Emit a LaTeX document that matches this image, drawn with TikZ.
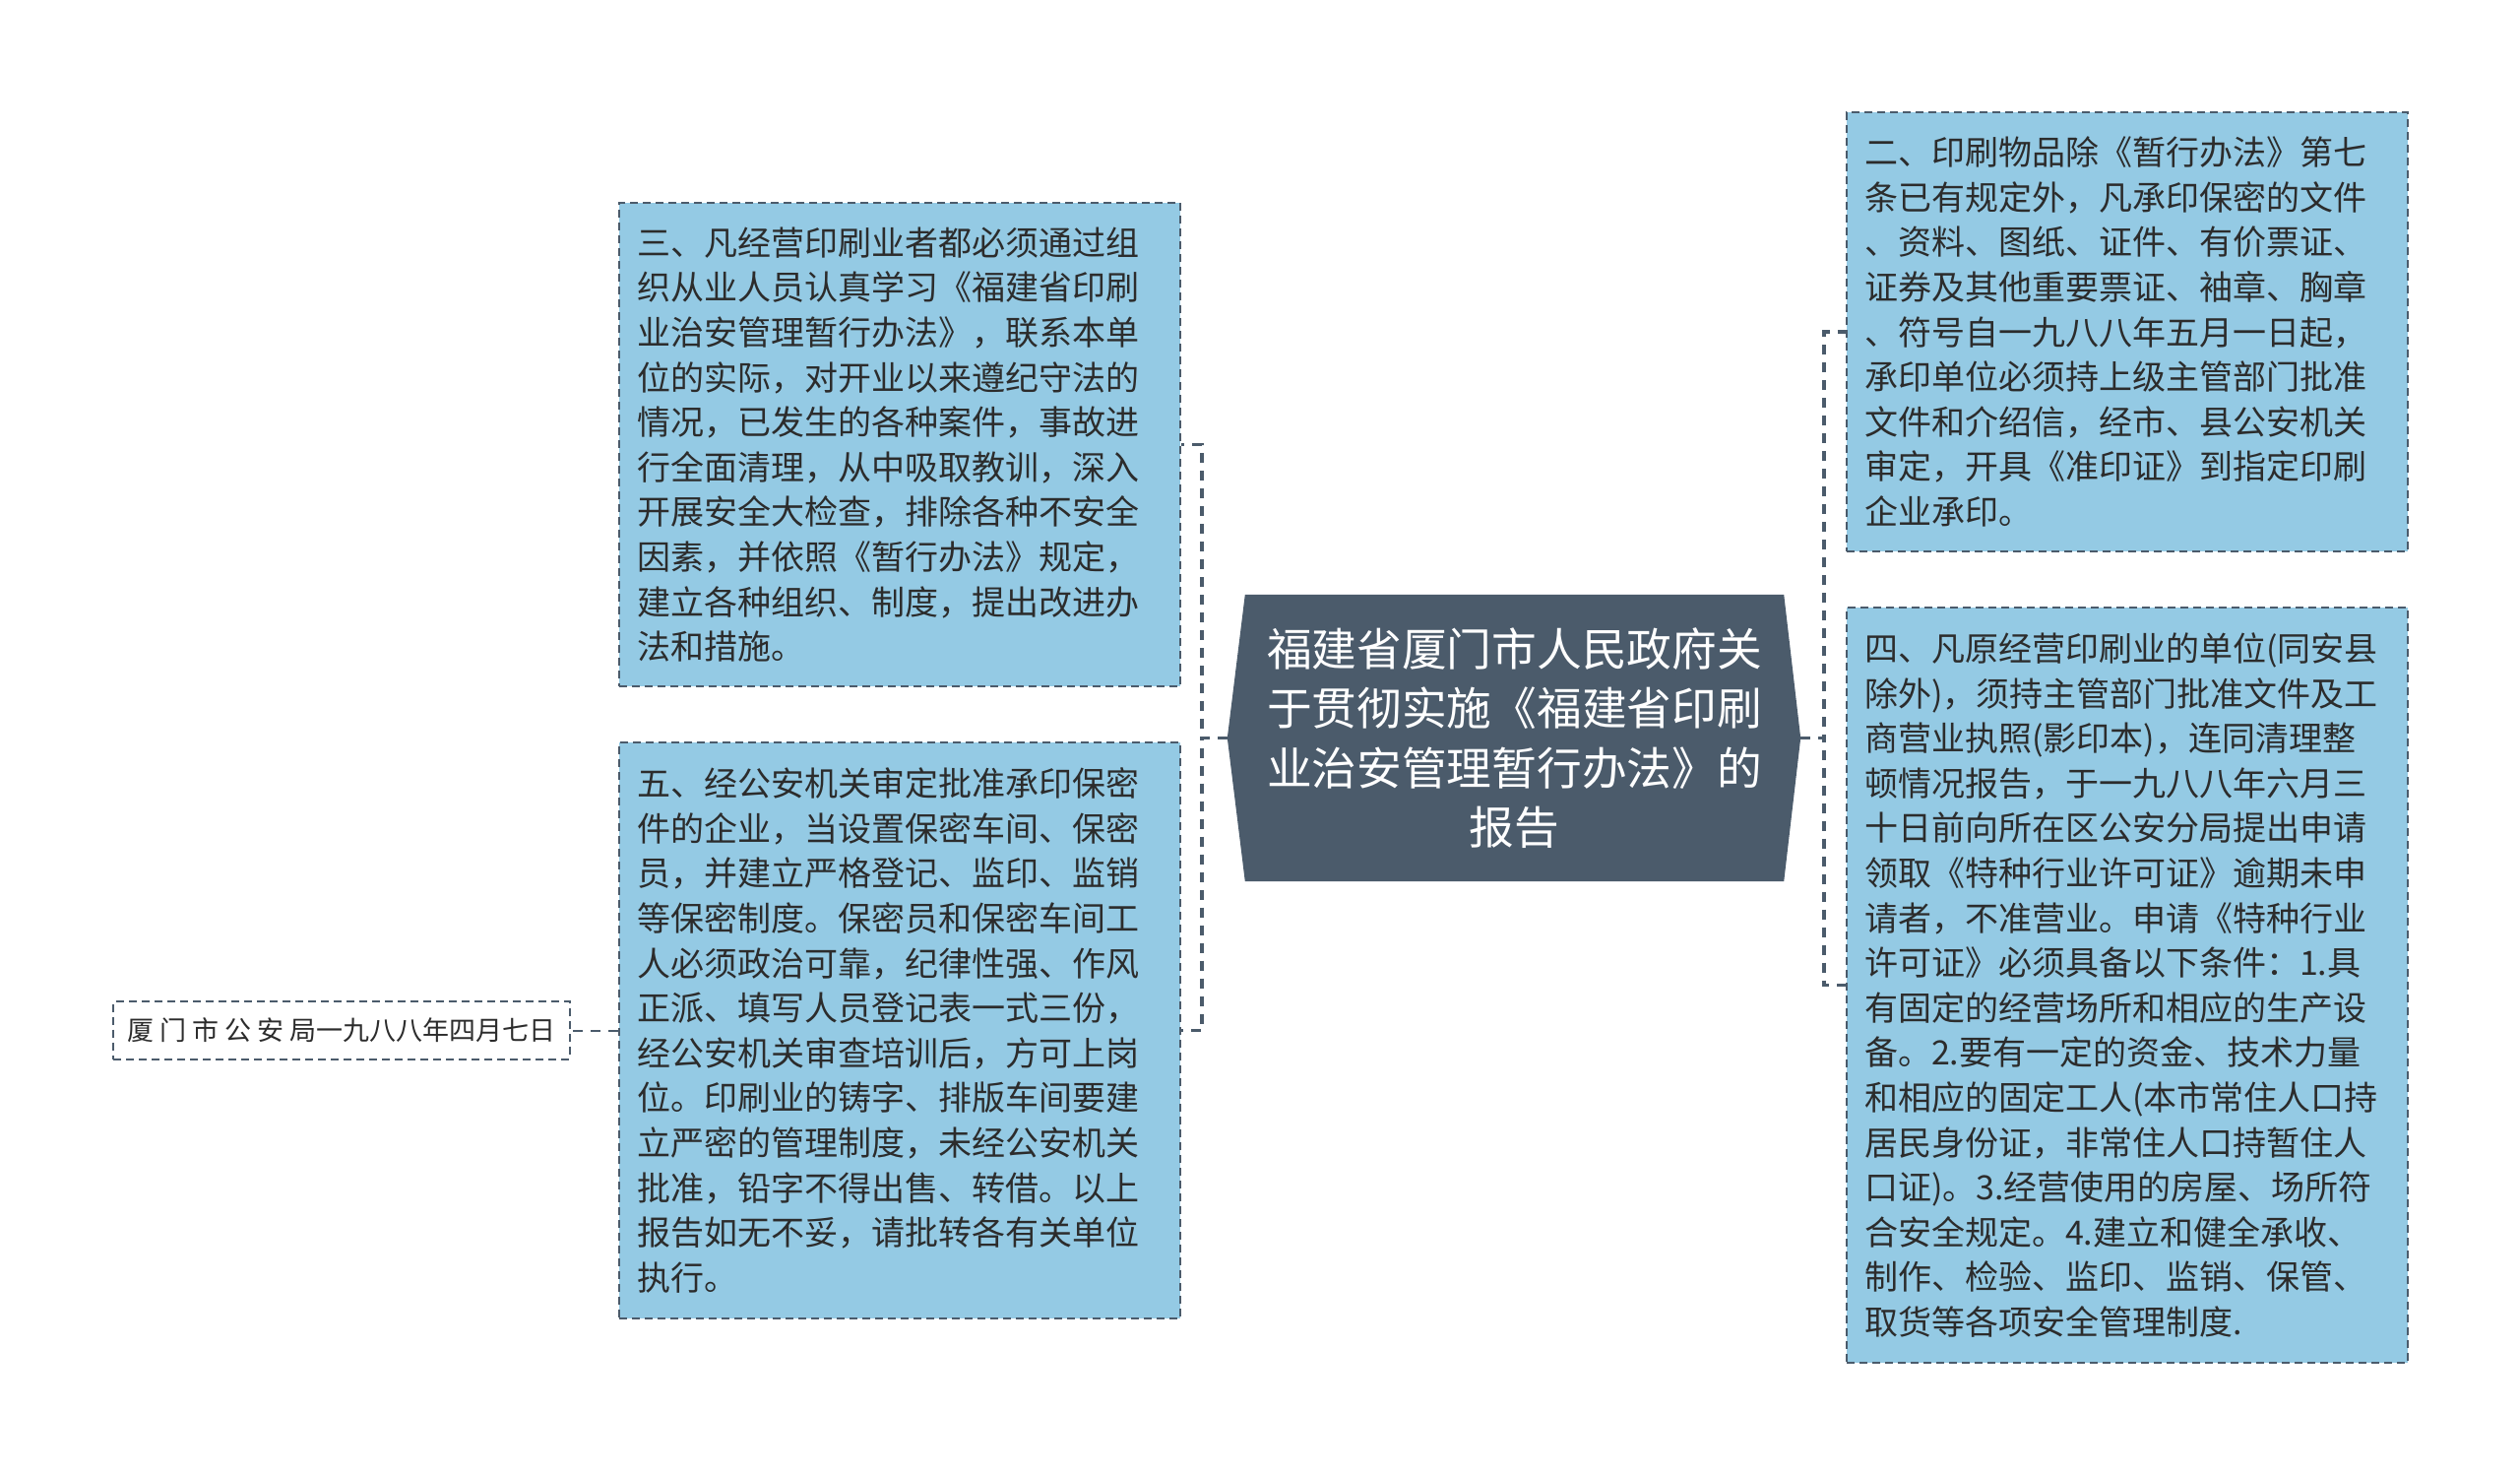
\documentclass[tikz,border=0pt]{standalone}
\usepackage{fontspec}
\setmainfont{Noto Sans CJK SC}
\usetikzlibrary{backgrounds}

\definecolor{leafblue}{HTML}{94CAE4}
\definecolor{slate}{HTML}{4B5B6B}
\definecolor{ink}{HTML}{2C2C2C}

\tikzset{
  leaf/.style={draw=slate, line width=2pt, dash pattern=on 8pt off 5pt,
    fill=leafblue, text=ink, align=left, inner xsep=18pt, inner ysep=0pt,
    text width=534pt, font=\fontsize{34}{45.6}\selectfont},
  hub/.style={text=white, align=center, text width=512pt, inner sep=0pt,
    minimum width=547pt, minimum height=291pt,
    font=\fontsize{45.7}{60.4}\selectfont},
  tag/.style={draw=slate, line width=2pt, dash pattern=on 8pt off 5pt,
    text=ink, inner xsep=14pt, minimum height=59pt,
    font=\fontsize{27}{32}\selectfont},
  link/.style={draw=slate, line width=3.8pt, dash pattern=on 10pt off 8pt}
}

\begin{document}
\begin{tikzpicture}[x=1pt, y=-1pt]
   \useasboundingbox (0,0) rectangle (2560,1499);

   % central topic
   \node[hub] (t_0) at (1538.5,749.5)
     {福建省厦门市人民政府关\\于贯彻实施《福建省印刷\\业治安管理暂行办法》的\\报告};
   \begin{scope}[on background layer]
     \fill[slate] ([xshift=-18pt]t_0.west) -- (t_0.north west) -- (t_0.north east)
       -- ([xshift=17pt]t_0.east) -- (t_0.south east) -- (t_0.south west) -- cycle;
   \end{scope}
   \coordinate (t_l) at ([xshift=-18pt]t_0.west);
   \coordinate (t_r) at ([xshift=17pt]t_0.east);

   % left branches
   \node[leaf, minimum height=491pt] (t_3) at (914,451.5)
     {三、凡经营印刷业者都必须通过组\\织从业人员认真学习《福建省印刷\\业治安管理暂行办法》，联系本单\\位的实际，对开业以来遵纪守法的\\情况，已发生的各种案件，事故进\\行全面清理，从中吸取教训，深入\\开展安全大检查，排除各种不安全\\因素，并依照《暂行办法》规定，\\建立各种组织、制度，提出改进办\\法和措施。};
   \node[leaf, minimum height=585pt] (t_5) at (914,1046.5)
     {五、经公安机关审定批准承印保密\\件的企业，当设置保密车间、保密\\员，并建立严格登记、监印、监销\\等保密制度。保密员和保密车间工\\人必须政治可靠，纪律性强、作风\\正派、填写人员登记表一式三份，\\经公安机关审查培训后，方可上岗\\位。印刷业的铸字、排版车间要建\\立严密的管理制度，未经公安机关\\批准，铅字不得出售、转借。以上\\报告如无不妥，请批转各有关单位\\执行。};
   \node[tag] (t_d) at (347,1046.5) {厦 门 市 公 安 局一九八八年四月七日};

   % right branches
   \node[leaf, minimum height=446pt] (t_2) at (2161,337)
     {二、印刷物品除《暂行办法》第七\\条已有规定外，凡承印保密的文件\\、资料、图纸、证件、有价票证、\\证券及其他重要票证、袖章、胸章\\、符号自一九八八年五月一日起，\\承印单位必须持上级主管部门批准\\文件和介绍信，经市、县公安机关\\审定，开具《准印证》到指定印刷\\企业承印。};
   \node[leaf, minimum height=767pt] (t_4) at (2161,1000.5)
     {四、凡原经营印刷业的单位(同安县\\除外)，须持主管部门批准文件及工\\商营业执照(影印本)，连同清理整\\顿情况报告，于一九八八年六月三\\十日前向所在区公安分局提出申请\\领取《特种行业许可证》逾期未申\\请者，不准营业。申请《特种行业\\许可证》必须具备以下条件：1.具\\有固定的经营场所和相应的生产设\\备。2.要有一定的资金、技术力量\\和相应的固定工人(本市常住人口持\\居民身份证，非常住人口持暂住人\\口证)。3.经营使用的房屋、场所符\\合安全规定。4.建立和健全承收、\\制作、检验、监印、监销、保管、\\取货等各项安全管理制度.};

   \path[link]
     (t_l) -- ++(-26,0) |- (t_3.east)
     (t_l) -- ++(-26,0) |- (t_5.east)
     (t_r) -- ++(24,0) |- (t_2.west)
     (t_r) -- ++(24,0) |- (t_4.west);
   \draw[link, line width=2pt] (t_5.west) -- ++(-24,0) |- (t_d.east);
\end{tikzpicture}
\end{document}
